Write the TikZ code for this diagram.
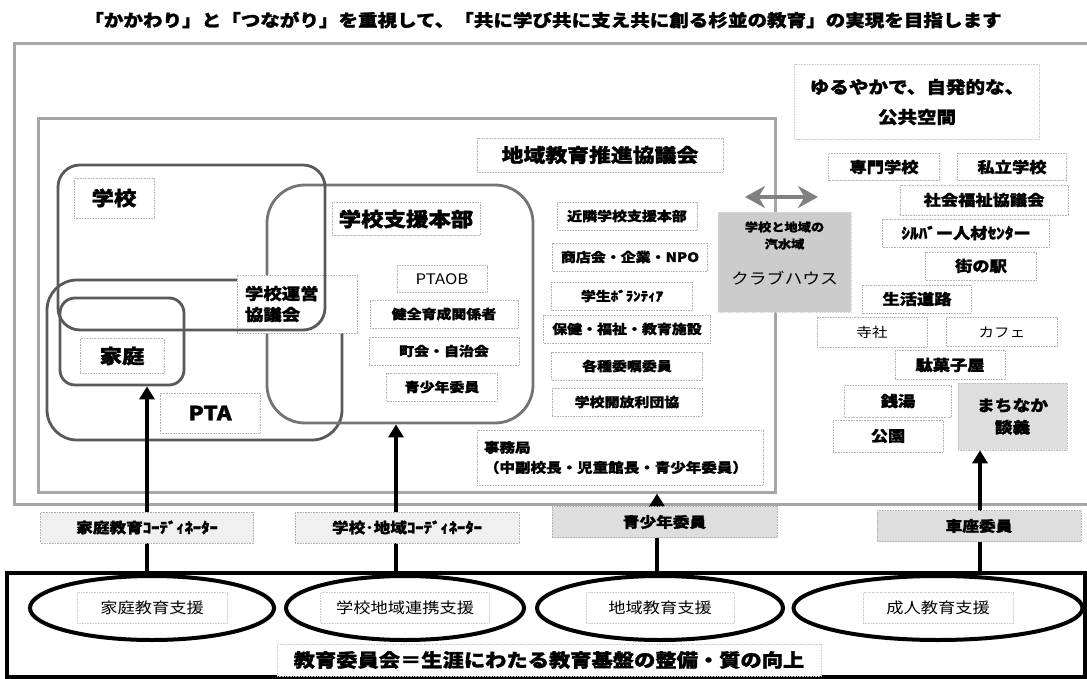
\documentclass[tikz,border=0pt]{standalone}
\usepackage{fontspec}
\setmainfont{Noto Sans CJK JP}[FakeStretch=1.15, BoldFeatures={FakeBold=1.5}]
\usetikzlibrary{positioning, arrows.meta, shapes.geometric}

\begin{document}
\begin{tikzpicture}
    [
        x=1pt, y=-1pt, node distance=37pt and 40pt, on grid,
        tag_box/.style={rectangle, draw=black!30, densely dotted, line width=0.6pt, fill=white, minimum height=28pt, inner sep=2pt, font=\fontsize{13}{15}\selectfont\bfseries},
        gray_box/.style={tag_box, draw=black!25, fill=black!13},
        coord_box/.style={tag_box, fill=black!6, minimum height=31pt, font=\fontsize{14.5}{16}\selectfont\bfseries},
        right_box/.style={tag_box, minimum height=28pt, font=\fontsize{15}{17}\selectfont\bfseries},
        big_label/.style={tag_box, font=\fontsize{19.5}{22}\selectfont\bfseries},
        group_box/.style={rectangle, draw=black!65, line width=2.8pt, inner sep=0pt},
        frame_line/.style={draw=black!35, line width=3pt},
        support_ring/.style={ellipse, draw=black, line width=4pt, minimum height=64pt, inner sep=0pt},
        ring_label/.style={tag_box, draw=black!20, minimum height=31pt, font=\fontsize{15}{17}\selectfont},
        link_arrow/.style={line width=3.5pt, color=black, -{Triangle[length=13pt, width=15pt]}},
    ]
        \useasboundingbox (0,0) rectangle (1087,679) ;
        \node[font=\fontsize{17}{20}\selectfont\bfseries] (motto) at (543,20) {「かかわり」と「つながり」を重視して、「共に学び共に支え共に創る杉並の教育」の実現を目指します} ;

        \draw[frame_line] (1095,44) -- (14,44) -- (14,504) -- (1095,504) ;
        \node[frame_line, minimum width=737pt, minimum height=373pt] (councilframe) at (406.5,305.5) {} ;
        \node[tag_box, draw=black!20, fill=none, minimum width=245pt, minimum height=75pt, align=center, font=\fontsize{17}{30}\selectfont\bfseries] (openspace) at (917,102) {ゆるやかで、自発的な、\\公共空間} ;
        \node[tag_box, minimum width=246pt, minimum height=34pt, font=\fontsize{19}{22}\selectfont\bfseries] (council) at (600,155) {地域教育推進協議会} ;

        \node[group_box, minimum width=295pt, minimum height=160pt, rounded corners=30pt] (pta) at (194.5,360) {} ;
        \node[group_box, draw=black!55, minimum width=266pt, minimum height=238pt, rounded corners=38pt] (hq) at (400,304) {} ;
        \node[tag_box, minimum width=120pt, minimum height=58pt, align=left, text width=104pt, font=\fontsize{16}{21}\selectfont\bfseries] (board) at (297,304) {学校運営\\協議会} ;
        \node[group_box, minimum width=267pt, minimum height=165pt, rounded corners=22pt] (school) at (191.5,247.5) {} ;
        \node[group_box, minimum width=124pt, minimum height=87pt, rounded corners=15pt] (home) at (122,341.5) {} ;

        \node[big_label, minimum width=80pt, minimum height=40pt] (schoolname) at (114,198) {学校} ;
        \node[big_label, minimum width=148pt, minimum height=33pt] (hqname) at (406,219) {学校支援本部} ;
        \node[big_label, minimum width=84pt, minimum height=35pt] (homename) at (122,356) {家庭} ;
        \node[big_label, minimum width=100pt, minimum height=40pt] (ptaname) at (210,413) {PTA} ;

        \node[tag_box, minimum width=90pt, minimum height=27pt, font=\fontsize{14.5}{16}\selectfont] (ptaob) at (442,279) {PTAOB} ;
        \node[tag_box, minimum width=148pt] (fostering) [below = 35pt of ptaob, xshift=2pt] {健全育成関係者} ;
        \node[tag_box, minimum width=150pt] (townclub) [below = 37pt of fostering] {町会・自治会} ;
        \node[tag_box, minimum width=111pt] (youth) [below = 36pt of townclub, xshift=-2pt] {青少年委員} ;

        \node[tag_box, minimum width=140pt] (nearby) at (627,216) {近隣学校支援本部} ;
        \node[tag_box, minimum width=155pt] (shops) [below = 41pt of nearby, xshift=3pt] {商店会・企業・NPO} ;
        \node[tag_box, minimum width=141pt] (students) [below = 39pt of shops, xshift=-8pt] {学生ﾎﾞﾗﾝﾃｨｱ} ;
        \node[tag_box, minimum width=167pt] (welfare) [below = 33pt of students, xshift=5pt] {保健・福祉・教育施設} ;
        \node[tag_box, minimum width=151pt] (commission) [below = 37pt of welfare] {各種委嘱委員} ;
        \node[tag_box, minimum width=150pt] (opening) [below = 36pt of commission] {学校開放利団協} ;
        \node[tag_box, minimum width=286pt, minimum height=55pt, align=left, text width=272pt, font=\fontsize{13.5}{20}\selectfont\bfseries] (office) at (620,457.5) {事務局\\（中副校長・児童館長・青少年委員）} ;

        \coordinate (bridgeleft) at (745,197) ;
        \coordinate (bridgeright) at (818,197) ;
        \draw[line width=3.5pt, color=black!50, {Stealth[length=20pt, width=22pt]}-{Stealth[length=20pt, width=22pt]}] (bridgeleft) -- (bridgeright) ;
        \node[gray_box, fill=black!20, draw=black!15, minimum width=133pt, minimum height=100pt] (clubhouse) at (784.5,262) {} ;
        \node[font=\fontsize{11.5}{17}\selectfont\bfseries, align=center] (brackish) at (784.5,235.5) {学校と地域の\\汽水域} ;
        \node[font=\fontsize{15.5}{17}\selectfont] (clubname) at (784.5,278) {クラブハウス} ;

        \node[right_box, minimum width=111pt, minimum height=27pt] (vocational) at (884,167) {専門学校} ;
        \node[right_box, minimum width=109pt, minimum height=27pt] (private) at (1012,167) {私立学校} ;
        \node[right_box, minimum width=168pt, minimum height=30pt] (welfarecouncil) at (984,200) {社会福祉協議会} ;
        \node[right_box, minimum width=167pt] (silver) at (966,233) {ｼﾙﾊﾞー人材ｾﾝﾀー} ;
        \node[right_box, minimum width=111pt] (townstation) at (981,266) {街の駅} ;
        \node[right_box, minimum width=109pt] (lifeway) at (917,299) {生活道路} ;
        \node[right_box, minimum width=110pt, minimum height=30pt, font=\fontsize{13.5}{16}\selectfont] (shrine) at (872,332) {寺社} ;
        \node[right_box, minimum width=111pt, minimum height=29pt, font=\fontsize{13.5}{16}\selectfont] (cafe) at (1002,332) {カフェ} ;
        \node[right_box, minimum width=110pt, minimum height=29pt] (candy) at (950,365) {駄菓子屋} ;
        \node[right_box, minimum width=107pt, minimum height=32pt] (bathhouse) at (898,401) {銭湯} ;
        \node[right_box, minimum width=110pt, minimum height=32pt] (park) at (888,436) {公園} ;
        \node[gray_box, minimum width=109pt, minimum height=67pt, align=center, font=\fontsize{15.5}{22}\selectfont\bfseries] (townchat) at (1012.5,416.5) {まちなか\\談義} ;

        \node[draw=black, line width=3.2pt, minimum width=1078pt, minimum height=104pt, inner sep=0pt] (panel) at (546,625) {} ;
        \node[support_ring, minimum width=244pt] (homering) at (152,608) {} ;
        \node[support_ring, minimum width=238pt] (schoolring) at (405,608) {} ;
        \node[support_ring, minimum width=246pt] (regionring) at (660,608) {} ;
        \node[support_ring, minimum width=289pt] (adultring) at (938,608) {} ;
        \node[ring_label, minimum width=150pt] (homesupport) at (homering) {家庭教育支援} ;
        \node[ring_label, minimum width=169pt] (schoolsupport) at (schoolring) {学校地域連携支援} ;
        \node[ring_label, minimum width=148pt] (regionsupport) at (regionring) {地域教育支援} ;
        \node[ring_label, minimum width=150pt] (adultsupport) at (adultring) {成人教育支援} ;
        \node[tag_box, draw=black!20, minimum width=544pt, minimum height=32pt, font=\fontsize{18.5}{22}\selectfont\bfseries] (mission) at (549,660) {教育委員会＝生涯にわたる教育基盤の整備・質の向上} ;

        \coordinate (homefoot) at (147,572) ;
        \coordinate (schoolfoot) at (396,572) ;
        \coordinate (regionfoot) at (657,572) ;
        \coordinate (adultfoot) at (980,572) ;
        \draw[link_arrow] (homefoot) -- (homefoot |- home.south) ;
        \draw[link_arrow] (schoolfoot) -- (schoolfoot |- hq.south) ;
        \draw[link_arrow] (regionfoot) -- (regionfoot |- councilframe.south) ;
        \draw[link_arrow] (adultfoot) -- (adultfoot |- townchat.south) ;

        \node[coord_box, minimum width=213pt] (homecoord) at (147,527.5) {家庭教育ｺｰﾃﾞｨﾈｰﾀｰ} ;
        \node[coord_box, minimum width=224pt] (schoolcoord) at (407,527.5) {学校･地域ｺｰﾃﾞｨﾈｰﾀｰ} ;
        \node[coord_box, fill=black!13, minimum width=225pt] (youthcoord) at (664.5,522) {青少年委員} ;
        \node[coord_box, fill=black!13, minimum width=204pt] (circlecoord) at (979,526) {車座委員} ;
    \end{tikzpicture}
\end{document}
